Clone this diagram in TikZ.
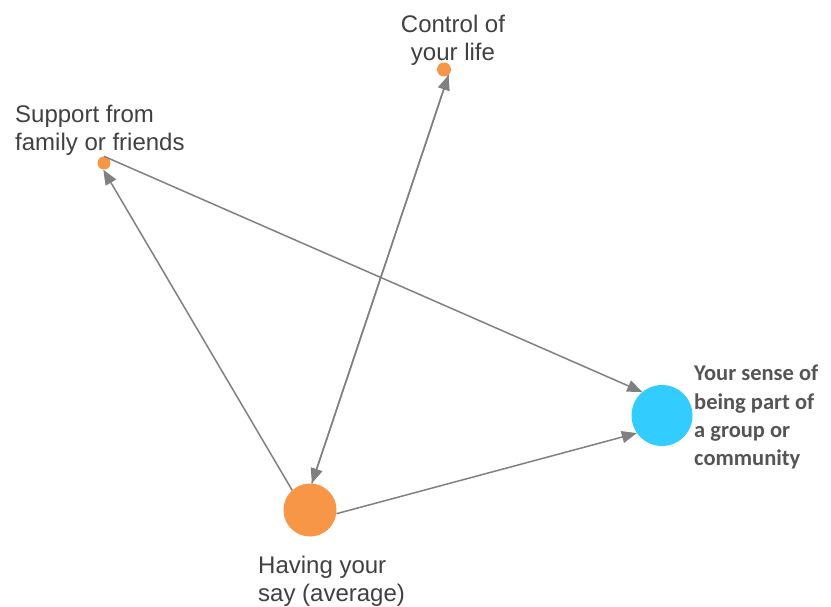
\documentclass[tikz,border=0pt]{standalone}
\usepackage{fontspec}
\setmainfont{Liberation Sans}
\newfontfamily\calib{Carlito}
\usetikzlibrary{arrows.meta}
\definecolor{dotorange}{HTML}{F79646}
\definecolor{dotblue}{HTML}{33CCFF}
\definecolor{edgegray}{HTML}{808080}
\definecolor{txtgray}{HTML}{404040}
\definecolor{boldgray}{HTML}{555555}
\begin{document}
\begin{tikzpicture}[x=1pt,y=-1pt,
  dot/.style={circle,fill=dotorange,draw=none,inner sep=0pt,minimum size=#1},
  bluedot/.style={circle,fill=dotblue,draw=none,inner sep=0pt,minimum size=#1},
  lbl/.style={inner sep=0pt,text=txtgray,font=\fontsize{24}{28.5}\selectfont},
  boldlbl/.style={inner sep=0pt,text=boldgray,font=\calib\bfseries\fontsize{22.5}{28.3}\selectfont,align=left},
  conn/.style={draw=edgegray,line width=1.5pt,-{Triangle[length=15pt,width=12pt]}}]
\useasboundingbox (0,0) rectangle (831,607);
\node[dot=14pt] (control) at (444,69.5) {};
\node[dot=13pt] (support) at (104,163) {};
\node[dot=53pt] (having) at (310,510) {};
\node[bluedot=61pt] (sense) at (662,415.5) {};
\node[lbl,anchor=north,align=center] (controllbl) at (453,14.5) {Control of\\your life};
\node[lbl,anchor=north west,align=left] (supportlbl) at (15,104.5) {Support from\\family or friends};
\node[lbl,anchor=north west,align=left] (havinglbl) at (258,555.5) {Having your\\say (average)};
\node[boldlbl,anchor=north west] (senselbl) at (694,365) {Your sense of\\being part of\\a group or\\community};
\draw[conn] (having.132) -- (support.-96);
\draw[conn] (having.86) -- (control.-51);
\draw[conn] (control.-51) -- (having.86);
\draw[conn] (support.north) -- (sense.130);
\draw[conn] (having.-8) -- (sense.215);
\end{tikzpicture}
\end{document}
